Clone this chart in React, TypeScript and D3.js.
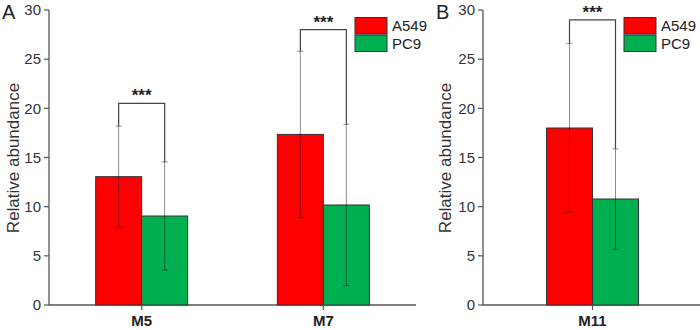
import React from "react";
import * as d3 from "d3";

const groupsA = ["M5", "M7"];
const groupsB = ["M11"];
const seriesNames = ["A549", "PC9"];
const seriesColors = ["#ff0000", "#00b050"];
const meansA = [[13.05, 9.05], [17.35, 10.17]];
const errA = [[5.15, 5.5], [8.45, 8.2]];
const meansB = [[18.0, 10.78]];
const errB = [[8.6, 5.1]];
const bracketA = [20.5, 28.0];
const bracketB = [29.0];
const yTicks = [0, 5, 10, 15, 20, 25, 30];

const W = 700, H = 330;
const y = d3.scaleLinear().domain([0, 30]).range([305, 10]);
const barW = 46;
const axisColor = "#555";
const font = "Arial, 'Liberation Sans', sans-serif";

function Panel({ label, x0, x1, groups, means, errs, brackets, legendX, labelX, titleX }: any) {
  const xs = d3.scalePoint().domain(groups).range([x0, x1]).padding(groups.length > 1 ? 0.51 : 0.5);
  return (
    <g fontFamily={font}>
      <text x={titleX} y={19} fontSize={20} fill="#222">{label}</text>
      <text transform={`translate(${labelX},158) rotate(-90)`} textAnchor="middle" fontSize={17} fill="#333">Relative abundance</text>
      <line x1={x0} x2={x0} y1={y(30)} y2={y(0)} stroke={axisColor} strokeWidth={1.3} />
      <line x1={x0} x2={x1} y1={y(0)} y2={y(0)} stroke={axisColor} strokeWidth={1.3} />
      {yTicks.map((t) => (
        <g key={t}>
          <line x1={x0 - 5} x2={x0} y1={y(t)} y2={y(t)} stroke={axisColor} strokeWidth={1.2} />
          <text x={x0 - 8} y={y(t)} dy="0.35em" textAnchor="end" fontSize={15} fill="#333">{t}</text>
        </g>
      ))}
      {groups.map((g: string, gi: number) => {
        const cx = xs(g) as number;
        const centers = [cx - barW / 2, cx + barW / 2];
        return (
          <g key={g}>
            {means[gi].map((m: number, si: number) => (
              <rect key={si} x={cx - barW + si * barW} y={y(m)} width={barW} height={y(0) - y(m)}
                fill={seriesColors[si]} stroke="#333" strokeWidth={1} />
            ))}
            {means[gi].map((m: number, si: number) => {
              const e = errs[gi][si];
              const ex = centers[si];
              return (
                <g key={"e" + si} stroke="#000" strokeOpacity={0.45} strokeWidth={1}>
                  <line x1={ex} x2={ex} y1={y(m + e)} y2={y(m - e)} />
                  <line x1={ex - 3} x2={ex + 3} y1={y(m + e)} y2={y(m + e)} />
                  <line x1={ex - 3} x2={ex + 3} y1={y(m - e)} y2={y(m - e)} />
                </g>
              );
            })}
            <path d={`M${centers[0]},${y(means[gi][0] + errs[gi][0])}V${y(brackets[gi])}H${centers[1]}V${y(means[gi][1] + errs[gi][1])}`}
              fill="none" stroke="#444" strokeWidth={1.2} />
            <text x={cx} y={y(brackets[gi]) - 2} textAnchor="middle" fontSize={17} fontWeight="bold" fill="#222">***</text>
            <line x1={cx} x2={cx} y1={y(0)} y2={y(0) + 5} stroke={axisColor} strokeWidth={1.2} />
            <text x={cx} y={326} textAnchor="middle" fontSize={15} fontWeight="bold" fill="#222">{g}</text>
          </g>
        );
      })}
      {seriesNames.map((s, i) => (
        <g key={s}>
          <rect x={legendX} y={17.5 + i * 17.5} width={32} height={16.5} fill={seriesColors[i]} stroke="#333" strokeWidth={1} />
          <text x={legendX + 37} y={26 + i * 17.5} dy="0.35em" fontSize={15} fill="#222">{s}</text>
        </g>
      ))}
    </g>
  );
}

export default function App() {
  return (
    <svg width={W} height={H} style={{ display: "block", position: "absolute", left: 0, top: 0, background: "#fff" }}>
      <Panel label="A" x0={49} x1={416} groups={groupsA} means={meansA} errs={errA} brackets={bracketA}
        legendX={355} labelX={19} titleX={2} />
      <Panel label="B" x0={483} x1={702} groups={groupsB} means={meansB} errs={errB} brackets={bracketB}
        legendX={624} labelX={451} titleX={436} />
    </svg>
  );
}
